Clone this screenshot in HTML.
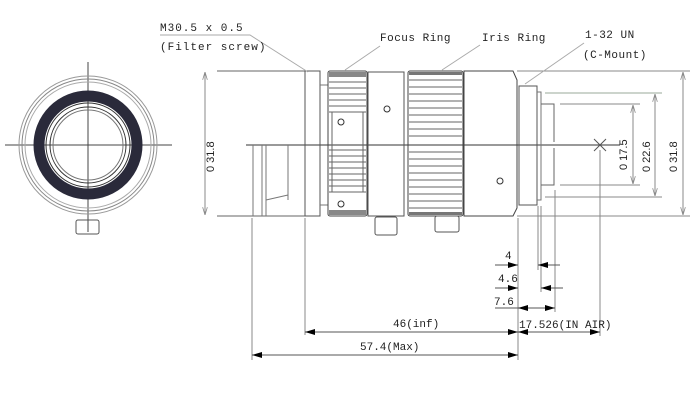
<!DOCTYPE html>
<html><head><style>body{margin:0;background:#fff}svg{display:block}text{font-family:"Liberation Mono",monospace;font-size:11px;fill:#222}</style></head><body>
<svg width="700" height="400" viewBox="0 0 700 400">
<defs>
<marker id="a" viewBox="0 0 10 6" refX="10" refY="3" markerWidth="10" markerHeight="6" orient="auto-start-reverse"><path d="M0,0L10,3L0,6z" fill="#000"/></marker>
<marker id="t" viewBox="0 0 10 6" refX="10" refY="3" markerWidth="8" markerHeight="5" orient="auto-start-reverse"><path d="M0,0L10,3L0,6" fill="none" stroke="#888"/></marker>
</defs>
<g fill="none" stroke="#333" stroke-width="1">
<!-- left view -->
<line x1="5" y1="145" x2="172" y2="145" stroke="#444"/>
<line x1="88" y1="62" x2="88" y2="232" stroke="#444"/>
<circle cx="88" cy="145" r="69" stroke="#999"/>
<circle cx="88" cy="145" r="66" stroke="#888"/>
<circle cx="88" cy="145" r="63" stroke="#aaa"/>
<circle cx="88" cy="145" r="49" stroke="#2a2a3a" stroke-width="11"/>
<circle cx="88" cy="145" r="42"/>
<circle cx="88" cy="145" r="38"/>
<circle cx="88" cy="145" r="35" stroke="#777"/>
<rect x="76" y="220" width="23" height="14" rx="2" stroke="#555"/>
<!-- main body -->
<line x1="217" y1="71" x2="305" y2="71" stroke="#666"/>
<line x1="217" y1="216" x2="305" y2="216" stroke="#666"/>
<line x1="246" y1="145" x2="620" y2="145" stroke="#333"/>
<path d="M253,145V216M262,145V216M266,145V216M288,145V200M305,145V216M266,200L288,195" stroke="#777"/>
<rect x="305" y="71" width="15" height="145" stroke="#555"/>
<path d="M320,85H328M320,205H328" stroke="#777"/>
<rect x="328" y="71" width="39" height="145" rx="2" stroke="#444"/>
<rect x="329" y="72" width="37" height="5" fill="#888" stroke="none"/>
<rect x="329" y="210" width="37" height="5" fill="#888" stroke="none"/>
<g stroke="#666">
<path d="M329,82H366M329,88H366M329,94H366M329,100H366M329,106H366M329,112H366M329,150H366M329,156H366M329,162H366M329,168H366M329,174H366M329,180H366M329,186H366M329,192H366"/>
<path d="M332,112V192M363,112V192"/>
</g>
<circle cx="341" cy="122" r="3"/><circle cx="341" cy="204" r="3"/>
<rect x="368" y="72" width="36" height="144" stroke="#555"/>
<circle cx="387" cy="109" r="3"/>
<rect x="375" y="217" width="22" height="18" rx="2" stroke="#555"/>
<rect x="408" y="71" width="55" height="145" rx="2" stroke="#444"/>
<rect x="409" y="72" width="53" height="3" fill="#777" stroke="none"/>
<rect x="409" y="212" width="53" height="3" fill="#777" stroke="none"/>
<g stroke="#666"><path d="M409,80H462M409,87H462M409,94H462M409,101H462M409,108H462M409,115H462M409,122H462M409,129H462M409,136H462M409,152H462M409,159H462M409,166H462M409,173H462M409,180H462M409,187H462M409,194H462M409,201H462M409,208H462"/></g>
<rect x="435" y="216" width="24" height="16" rx="2" stroke="#555"/>
<path d="M464,71H513L517,80V208L513,216H464Z" stroke="#444"/>
<circle cx="500" cy="181" r="3"/>
<rect x="519" y="86" width="18" height="119" stroke="#555"/>
<path d="M537,92H541V200H537" stroke="#777"/>
<path d="M541,104H554V142M554,148V185H541" stroke="#666"/>
<path d="M594,139L606,151M606,139L594,151" stroke="#555"/>
<!-- right dims -->
<g stroke="#888">
<line x1="517" y1="71" x2="690" y2="71"/><line x1="517" y1="216" x2="690" y2="216"/>
<line x1="545" y1="93" x2="662" y2="93" stroke="#9a9"/><line x1="545" y1="197" x2="662" y2="197"/>
<line x1="560" y1="104" x2="640" y2="104"/><line x1="560" y1="185" x2="640" y2="185"/>
<line x1="683" y1="72" x2="683" y2="215" marker-start="url(#t)" marker-end="url(#t)"/>
<line x1="655" y1="94" x2="655" y2="196" marker-start="url(#t)" marker-end="url(#t)"/>
<line x1="633" y1="105" x2="633" y2="184" marker-start="url(#t)" marker-end="url(#t)"/>
<line x1="205" y1="72" x2="205" y2="215" marker-start="url(#t)" marker-end="url(#t)"/>
<!-- extension lines bottom -->
<path d="M252,218V360M305,218V335M518,218V360M538,206V270M541,206V292M555,190V312M600,150V336"/>
<!-- leaders -->
<path d="M160,35H250L308,72M380,46L345,70M480,45L442,70M584,43L525,84" stroke="#aaa"/>
</g>
<g stroke="#555">
<line x1="495" y1="265" x2="518" y2="265" marker-end="url(#a)"/><line x1="560" y1="265" x2="538" y2="265" marker-end="url(#a)"/>
<line x1="495" y1="288" x2="518" y2="288" marker-end="url(#a)"/><line x1="563" y1="288" x2="541" y2="288" marker-end="url(#a)"/>
<line x1="495" y1="308" x2="538" y2="308"/><line x1="538" y1="308" x2="518" y2="308" marker-end="url(#a)"/><line x1="535" y1="308" x2="555" y2="308" marker-end="url(#a)"/>
<line x1="305" y1="332" x2="518" y2="332" marker-start="url(#a)" marker-end="url(#a)"/>
<line x1="518" y1="332" x2="600" y2="332" marker-start="url(#a)" marker-end="url(#a)"/>
<line x1="252" y1="355" x2="518" y2="355" marker-start="url(#a)" marker-end="url(#a)"/>
</g>
</g>
<text x="160" y="31" letter-spacing="1">M30.5 x 0.5</text>
<text x="160" y="50" letter-spacing="1">(Filter screw)</text>
<text x="380" y="41" letter-spacing="0.5">Focus Ring</text>
<text x="482" y="41" letter-spacing="0.5">Iris Ring</text>
<text x="585" y="38" letter-spacing="0.5">1-32 UN</text>
<text x="583" y="58" letter-spacing="0.5">(C-Mount)</text>
<g font-family="Liberation Sans" font-size="11">
<text transform="translate(214,172) rotate(-90)" style="font-family:'Liberation Sans',sans-serif">0  31.8</text>
<text transform="translate(627,170) rotate(-90)" style="font-family:'Liberation Sans',sans-serif">0  17.5</text>
<text transform="translate(650,172) rotate(-90)" style="font-family:'Liberation Sans',sans-serif">0  22.6</text>
<text transform="translate(677,172) rotate(-90)" style="font-family:'Liberation Sans',sans-serif">0  31.8</text>
</g>
<g style="font-family:'Liberation Sans',sans-serif;font-size:11px">
<text x="505" y="259">4</text>
<text x="498" y="282">4.6</text>
<text x="494" y="305">7.6</text>
<text x="393" y="327">46(inf)</text>
<text x="519" y="328">17.526(IN AIR)</text>
<text x="360" y="350">57.4(Max)</text>
</g>
</svg>
</body></html>
